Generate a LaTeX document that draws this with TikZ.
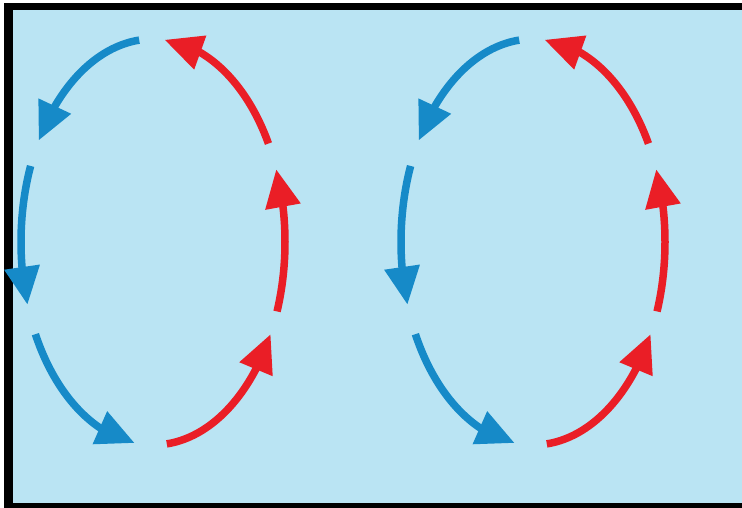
\documentclass[tikz,border=0pt]{standalone}
\usetikzlibrary{arrows.meta,bending}
\definecolor{bgblue}{RGB}{186,228,243}
\definecolor{arrowblue}{RGB}{22,138,200}
\definecolor{arrowred}{RGB}{234,30,38}
\begin{document}
\begin{tikzpicture}[x=1pt,y=1pt,
  flow/.style={line width=7.5pt, -{Triangle[length=38pt,width=34pt,flex]}},
  coldflow/.style={flow, draw=arrowblue},
  warmflow/.style={flow, draw=arrowred}]
\useasboundingbox (0,0) rectangle (742,-508);
\fill[white] (0,0) rectangle (742,-508);
\fill[bgblue] (13,-10) rectangle (742,-503);
\fill[black] (4,-3) rectangle (742,-10);
\fill[black] (4,-3) rectangle (13,-508);
\fill[black] (4,-503) rectangle (742,-508);
\foreach \cx/\nm in {153/L,533/R}{
  \coordinate (c\nm) at (\cx,-242);
  \draw[coldflow] (c\nm) ++(96:132 and 203) arc[start angle=96,end angle=150,x radius=132,y radius=203];
  \draw[coldflow] (c\nm) ++(158:132 and 203) arc[start angle=158,end angle=198,x radius=132,y radius=203];
  \draw[coldflow] (c\nm) ++(207:132 and 203) arc[start angle=207,end angle=262,x radius=132,y radius=203];
  \draw[warmflow] (c\nm) ++(276:132 and 203) arc[start angle=276,end angle=333,x radius=132,y radius=203];
  \draw[warmflow] (c\nm) ++(340:132 and 203) arc[start angle=340,end angle=381,x radius=132,y radius=203];
  \draw[warmflow] (c\nm) ++(389:132 and 203) arc[start angle=389,end angle=445,x radius=132,y radius=203];
}
\end{tikzpicture}
\end{document}
